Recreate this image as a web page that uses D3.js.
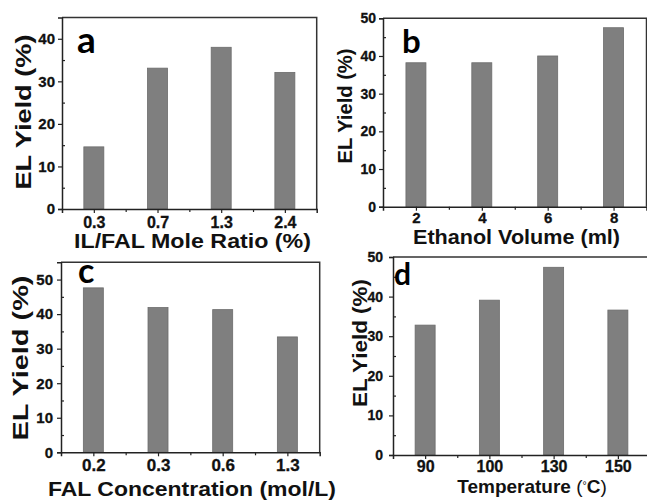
<!DOCTYPE html>
<html>
<head>
<meta charset="utf-8">
<script src="https://d3js.org/d3.v7.min.js"></script>
<style>
  body { margin: 0; background: #fff; }
  svg { display: block; }
</style>
</head>
<body>
<svg width="647" height="500"></svg>

<script>
// panel a - IL/FAL mole ratio
var ratioCats  = ["0.3", "0.7", "1.3", "2.4"];
var ratioYield = [14.6, 33.1, 38.0, 32.1];

// panel b - ethanol volume
var ethanolCats  = ["2", "4", "6", "8"];
var ethanolYield = [38.2, 38.2, 40.0, 47.5];

// panel c - FAL concentration
var concCats  = ["0.2", "0.3", "0.6", "1.3"];
var concYield = [47.6, 41.9, 41.3, 33.4];

// panel d - temperature
var tempCats  = ["90", "100", "130", "150"];
var tempYield = [32.8, 39.1, 47.4, 36.6];

var yTicks45 = [0, 10, 20, 30, 40];
var yTicks50 = [0, 10, 20, 30, 40, 50];
var yTitle = "EL Yield (%)";

var FONT = "Liberation Sans";

var panels = [
  { letter: "a", cats: ratioCats, vals: ratioYield, ymax: 45, yticks: yTicks45,
    left: 62, right: 316.7, top: 17.5, bottom: 209,
    xFont: 16, xPad: 4, yFont: 15, yPad: 3,
    xTitle: "IL/FAL Mole Ratio (%)", xtX: 192.5, xtY: 248, xtLen: 237, xtFont: 20,
    ytX: 23, ytY: 112, ytLen: 155, ytFont: 22,
    lx: 77, ly: 53, lFont: 37 },
  { letter: "b", cats: ethanolCats, vals: ethanolYield, ymax: 50, yticks: yTicks50,
    left: 383, right: 646.5, top: 18.3, bottom: 206.7,
    xFont: 15, xPad: 1.5, yFont: 14, yPad: 3,
    xTitle: "Ethanol Volume (ml)", xtX: 516.5, xtY: 244, xtLen: 207, xtFont: 20,
    ytX: 345, ytY: 106, ytLen: 115, ytFont: 20,
    lx: 402, ly: 53, lFont: 33 },
  { letter: "c", cats: concCats, vals: concYield, ymax: 55, yticks: yTicks50,
    left: 61, right: 319.7, top: 262.3, bottom: 452.3,
    xFont: 17, xPad: 2.5, yFont: 15, yPad: 4,
    xTitle: "FAL Concentration (mol/L)", xtX: 192, xtY: 495.5, xtLen: 288, xtFont: 21,
    ytX: 20, ytY: 358, ytLen: 165, ytFont: 22,
    lx: 78, ly: 283, lFont: 34 },
  { letter: "d", cats: tempCats, vals: tempYield, ymax: 50, yticks: yTicks50,
    left: 393, right: 650, top: 257, bottom: 455,
    xFont: 16, xPad: 1.5, yFont: 14, yPad: 6,
    xTitle: null, xtX: 532, xtY: 493, xtLen: 155, xtFont: 19,
    ytX: 359, ytY: 343, ytLen: 128, ytFont: 21,
    lx: 394, ly: 285, lFont: 30 }
];

var svg = d3.select("svg")
  .attr("font-family", FONT)
  .attr("font-weight", "bold");

panels.forEach(function(p) {
  var g = svg.append("g");

  var x = d3.scaleLinear().domain([0.5, p.cats.length + 0.5]).range([p.left, p.right]);
  var y = d3.scaleLinear().domain([0, p.ymax]).range([p.bottom, p.top]);
  var idx = p.cats.map(function(c, i) { return i + 1; });

  // bars
  g.selectAll("rect.bar")
    .data(p.vals)
    .enter()
    .append("rect")
    .attr("class", "bar")
    .attr("x", (d, i) => x(i + 1) - 10)
    .attr("width", 20)
    .attr("y", d => y(d))
    .attr("height", d => y(0) - y(d))
    .attr("fill", "#7f7f7f")
    .attr("stroke", "#6c6c6c")
    .attr("stroke-width", 0.8);

  // frame top / right
  g.append("path")
    .attr("d", "M" + p.left + "," + p.top + "H" + p.right + "V" + p.bottom)
    .attr("fill", "none")
    .attr("stroke", "#333")
    .attr("stroke-width", 1.5);

  // x axis
  g.append("g")
    .attr("transform", "translate(0," + p.bottom + ")")
    .call(d3.axisBottom(x).tickValues(idx).tickSize(4).tickPadding(p.xPad)
      .tickFormat((d, i) => p.cats[i]))
    .attr("font-family", FONT)
    .attr("font-weight", "bold")
    .attr("font-size", p.xFont)
    .selectAll("text").attr("fill", "#111").attr("stroke", "#111").attr("stroke-width", 0.3);
  g.append("g")
    .attr("transform", "translate(0," + p.bottom + ")")
    .call(d3.axisBottom(x).tickValues(idx.slice(1).map(v => v - 0.5)).tickSize(3).tickFormat(""))
    .select(".domain").remove();

  // y axis
  g.append("g")
    .attr("transform", "translate(" + p.left + ",0)")
    .call(d3.axisLeft(y).tickValues(p.yticks).tickSize(4).tickPadding(p.yPad))
    .attr("font-family", FONT)
    .attr("font-weight", "bold")
    .attr("font-size", p.yFont)
    .selectAll("text").attr("fill", "#111").attr("stroke", "#111").attr("stroke-width", 0.3);
  var minor = d3.range(5, p.ymax, 10);
  g.append("g")
    .attr("transform", "translate(" + p.left + ",0)")
    .call(d3.axisLeft(y).tickValues(minor).tickSize(-3).tickFormat(""))
    .select(".domain").remove();

  g.selectAll(".domain").attr("stroke", "#222").attr("stroke-width", 1.5);
  g.selectAll(".tick line").attr("stroke", "#222").attr("stroke-width", 1.2);

  // y title
  g.append("text")
    .attr("transform", "translate(" + p.ytX + "," + p.ytY + ") rotate(-90)")
    .attr("text-anchor", "middle")
    .attr("dy", "0.36em")
    .attr("textLength", p.ytLen)
    .attr("lengthAdjust", "spacingAndGlyphs")
    .attr("font-size", p.ytFont)
    .attr("fill", "#111")
    .text(yTitle);

  // x title
  var xt = g.append("text")
    .attr("x", p.xtX)
    .attr("y", p.xtY)
    .attr("text-anchor", "middle")
    .attr("font-size", p.xtFont)
    .attr("fill", "#111");
  if (p.xTitle) {
    xt.attr("textLength", p.xtLen)
      .attr("lengthAdjust", "spacingAndGlyphs")
      .text(p.xTitle);
  } else {
    xt.append("tspan").text("Temperature ");
    xt.append("tspan").attr("font-weight", "normal").text("(");
    xt.append("tspan").attr("font-weight", "normal").attr("font-size", p.xtFont * 0.55)
      .attr("baseline-shift", "40%").text("\u00b0");
    xt.append("tspan").text("C");
    xt.append("tspan").attr("font-weight", "normal").text(")");
  }

  // panel letter
  g.append("text")
    .attr("x", p.lx)
    .attr("y", p.ly)
    .attr("font-family", "Lato")
    .attr("font-size", p.lFont)
    .attr("fill", "#000")
    .text(p.letter);
});
</script>
</body>
</html>
